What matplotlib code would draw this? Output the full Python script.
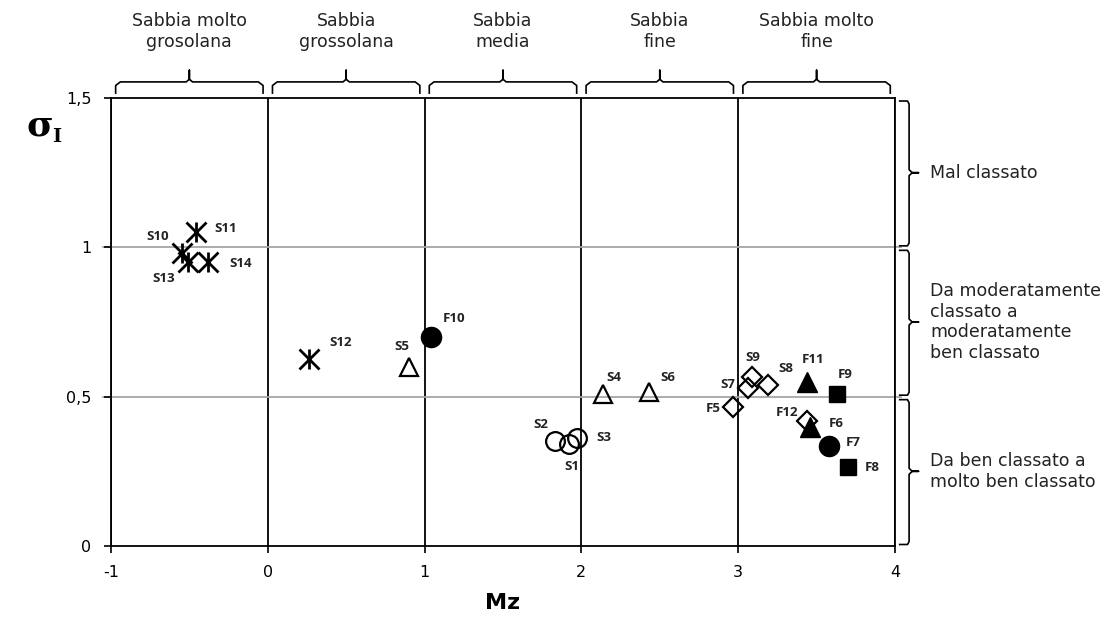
import matplotlib.pyplot as plt
import numpy as np

# sample names and coordinates (Mz, sigma_I), grouped by marker type
star_names = ['S10', 'S11', 'S12', 'S13', 'S14']
star_mz = [-0.55, -0.46, 0.26, -0.51, -0.38]
star_sd = [0.98, 1.05, 0.625, 0.95, 0.95]

ocirc_names = ['S1', 'S2', 'S3']
ocirc_mz = [1.92, 1.83, 1.97]
ocirc_sd = [0.34, 0.35, 0.36]

otri_names = ['S4', 'S5', 'S6']
otri_mz = [2.14, 0.90, 2.43]
otri_sd = [0.51, 0.60, 0.515]

odiam_names = ['S7', 'S8', 'S9', 'F5', 'F12']
odiam_mz = [3.06, 3.19, 3.09, 2.97, 3.44]
odiam_sd = [0.53, 0.54, 0.565, 0.465, 0.42]

ftri_names = ['F6', 'F11']
ftri_mz = [3.46, 3.44]
ftri_sd = [0.40, 0.55]

fcirc_names = ['F7', 'F10']
fcirc_mz = [3.58, 1.04]
fcirc_sd = [0.335, 0.70]

fsq_names = ['F8', 'F9']
fsq_mz = [3.70, 3.63]
fsq_sd = [0.265, 0.51]

x_classes = ['Sabbia molto\ngrosolana', 'Sabbia\ngrossolana', 'Sabbia\nmedia',
             'Sabbia\nfine', 'Sabbia molto\nfine']
x_bounds = [-1, 0, 1, 2, 3, 4]
y_classes = ['Da ben classato a\nmolto ben classato',
             'Da moderatamente\nclassato a\nmoderatamente\nben classato',
             'Mal classato']
y_bounds = [0, 0.5, 1, 1.5]

# label offsets in pixels (dx, dy)
offsets = {'S10': (-24, 17), 'S11': (30, 4), 'S13': (-24, -16), 'S14': (33, -1),
           'S12': (32, 17), 'S5': (-7, 20), 'F10': (23, 18), 'S4': (11, 16),
           'S6': (19, 15), 'S2': (-14, 17), 'S1': (3, -22), 'S3': (27, 1),
           'F5': (-20, -1), 'S7': (-20, 3), 'S9': (1, 20), 'S8': (18, 16),
           'F11': (6, 22), 'F9': (8, 19), 'F12': (-20, 8), 'F6': (26, 3),
           'F7': (24, 3), 'F8': (24, -1)}

fig = plt.figure(figsize=(11.14, 6.28), dpi=100)
ax = fig.add_axes([0.0996, 0.1306, 0.7038, 0.7133])

for xb in x_bounds:
    ax.axvline(xb, color='black', lw=1.3, zorder=1)
for yb in y_bounds[1:-1]:
    ax.axhline(yb, xmin=-0.01, xmax=1.008, color='#a6a6a6', lw=1.3, zorder=1, clip_on=False)

ax.plot(star_mz, star_sd, ls='none', marker='x', ms=14, mew=2, color='black', zorder=3)
ax.plot(star_mz, star_sd, ls='none', marker='|', ms=15, mew=2, color='black', zorder=3)
ax.plot(ocirc_mz, ocirc_sd, ls='none', marker='o', ms=13.5, mew=1.6, mfc='none', mec='black', zorder=3)
ax.plot(otri_mz, otri_sd, ls='none', marker='^', ms=13.5, mew=1.6, mfc='none', mec='black', zorder=3)
ax.plot(odiam_mz, odiam_sd, ls='none', marker='D', ms=10, mew=1.6, mfc='none', mec='black', zorder=3)
ax.plot(ftri_mz, ftri_sd, ls='none', marker='^', ms=15, color='black', zorder=4)
ax.plot(fcirc_mz, fcirc_sd, ls='none', marker='o', ms=14.5, color='black', zorder=4)
ax.plot(fsq_mz, fsq_sd, ls='none', marker='s', ms=12, color='black', zorder=4)

all_names = star_names + ocirc_names + otri_names + odiam_names + ftri_names + fcirc_names + fsq_names
all_mz = star_mz + ocirc_mz + otri_mz + odiam_mz + ftri_mz + fcirc_mz + fsq_mz
all_sd = star_sd + ocirc_sd + otri_sd + odiam_sd + ftri_sd + fcirc_sd + fsq_sd
for n, x, y in zip(all_names, all_mz, all_sd):
    ax.annotate(n, (x, y), xytext=offsets[n], textcoords='offset pixels',
                ha='center', va='center', fontsize=9.5, fontweight='bold',
                family='Open Sans', color='#222222')

ax.set_xlim(-1, 4)
ax.set_ylim(0, 1.5)
ax.set_xticks(x_bounds)
ax.set_xticklabels([str(v) for v in x_bounds])
ax.set_yticks(y_bounds)
ax.set_yticklabels(['0', '0,5', '1', '1,5'])
ax.tick_params(direction='out', length=5, width=1.2, labelsize=11.5, pad=9)
for s in ax.spines.values():
    s.set_linewidth(1.3)

ax.set_xlabel('Mz', fontsize=16, fontweight='bold', labelpad=9)
fig.text(0.036, 0.80, 'σ', fontsize=26, fontweight='bold', family='DejaVu Serif',
         ha='center', va='center')
fig.text(0.051, 0.782, 'I', fontsize=14, fontweight='bold', family='DejaVu Serif',
         ha='center', va='center')

# top braces (size classes)
tx = ax.get_xaxis_transform()
for lab, a, b in zip(x_classes, x_bounds[:-1], x_bounds[1:]):
    x0, x1, xm = a + 0.03, b - 0.03, (a + b) / 2
    bx = [x0, x0, x0 + 0.03, xm - 0.02, xm, xm, xm, xm + 0.02, x1 - 0.03, x1, x1]
    by = [1.011, 1.028, 1.036, 1.036, 1.042, 1.062, 1.042, 1.036, 1.036, 1.028, 1.011]
    ax.plot(bx, by, color='black', lw=1.2, transform=tx, clip_on=False)
    ax.text(xm, 1.148, lab, transform=tx, ha='center', va='center',
            fontsize=12.5, color='#222222', linespacing=1.2)

# right braces (sorting classes)
ty = ax.get_yaxis_transform()
for lab, a, b in zip(y_classes, y_bounds[:-1], y_bounds[1:]):
    y0, y1, ym = a + 0.005, b - 0.01, (a + b) / 2
    bx = [1.006, 1.016, 1.018, 1.018, 1.022, 1.030, 1.022, 1.018, 1.018, 1.016, 1.006]
    by = [y0, y0, y0 + 0.01, ym - 0.01, ym, ym, ym, ym + 0.01, y1 - 0.01, y1, y1]
    ax.plot(bx, by, color='black', lw=1.2, transform=ty, clip_on=False)
    ax.text(1.045, ym, lab, transform=ty, ha='left', va='center',
            fontsize=12.5, color='#222222', linespacing=1.2)

fig.savefig('out.png', dpi=100)
